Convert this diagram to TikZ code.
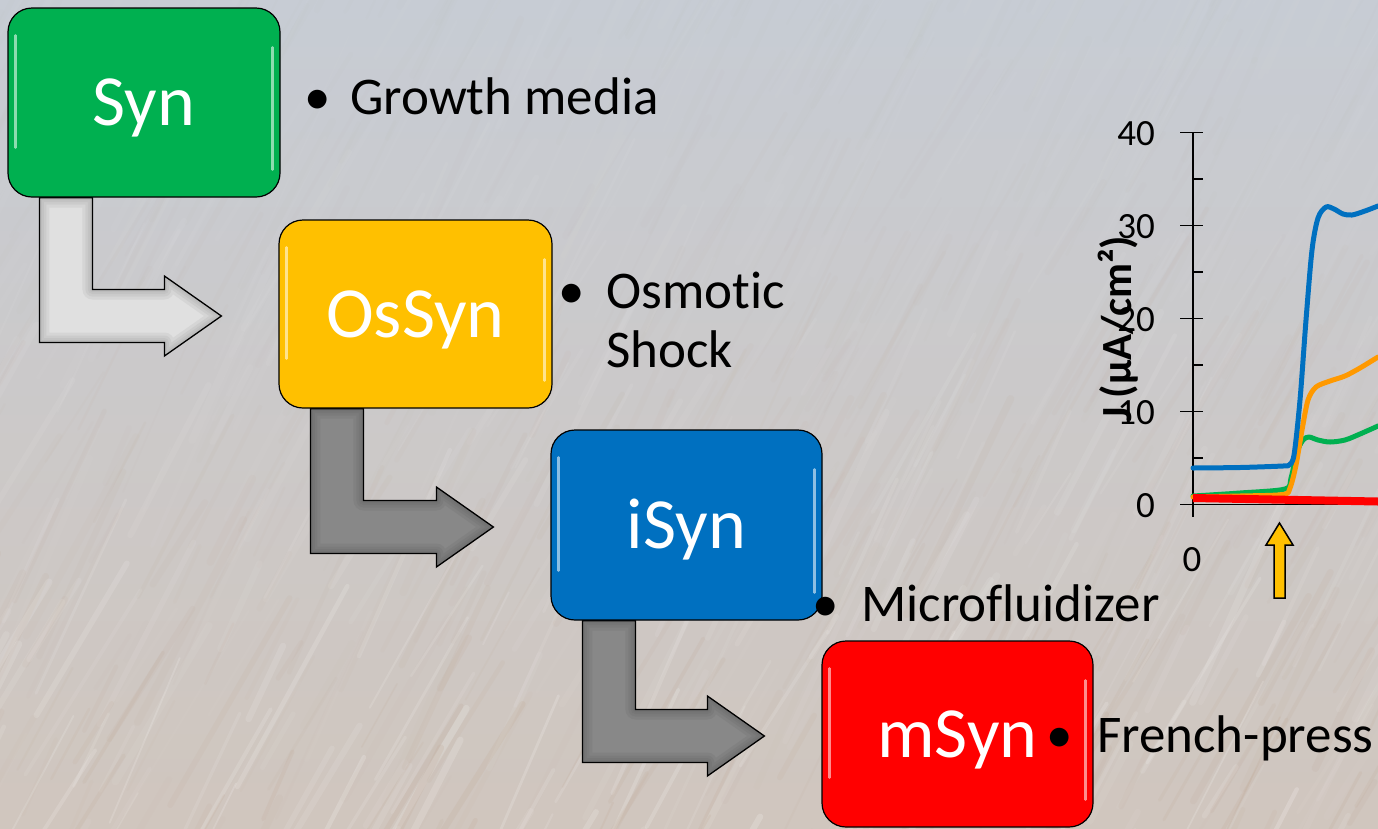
\documentclass[tikz,border=0pt]{standalone}
\usepackage{fontspec}
\setmainfont{Carlito}[Ligatures=NoCommon]
\usetikzlibrary{calc}

\definecolor{bgtop}{RGB}{199,204,212}
\definecolor{bgmid}{RGB}{201,200,201}
\definecolor{bgbot}{RGB}{208,198,190}
\definecolor{streaktan}{RGB}{190,165,145}
\definecolor{syngreen}{RGB}{0,176,80}
\definecolor{osyellow}{RGB}{255,192,0}
\definecolor{iblue}{RGB}{0,112,192}
\definecolor{mred}{RGB}{255,0,0}
\definecolor{lightarrow}{RGB}{224,224,224}
\definecolor{darkarrow}{RGB}{136,136,136}
\definecolor{curveorange}{RGB}{255,153,0}

\pgfdeclarelayer{bg}
\pgfdeclarelayer{arrows}
\pgfsetlayers{bg,arrows,main}

\tikzset{
  stage/.style={draw=black, line width=1.2pt, rounded corners=24pt,
    minimum width=272pt, minimum height=189pt, inner sep=0pt, text=white,
    font=\fontsize{72}{72}\selectfont, text height=46pt, text depth=0pt},
  bullettext/.style={font=\fontsize{53}{59}\selectfont, inner sep=0pt, anchor=base west},
  dot/.style={font=\fontsize{53}{59}\selectfont, inner sep=0pt, anchor=base},
  bentarrow/.style={draw=black, line width=1.3pt, line join=miter},
  ticklabel/.style={font=\fontsize{37}{37}\selectfont, inner sep=0pt,
    text height=23.4pt, text depth=0pt},
  curve/.style={line width=5pt, line join=round, line cap=round},
  gloss/.style={line width=2.5pt, line cap=round},
}

% bent process arrow from the bottom of one stage to the left of the next,
% filled, with a soft darker bevel inside its outline
\newcommand\bentarrow[3]{%
  \begin{scope}
  \clip let \p1=(#1.south west), \p2=(#2.west) in
    (\x1+32pt,\y1) -- (\x1+85pt,\y1) -- (\x1+85pt,\y2+24.5pt)
    -- (\x2-114pt,\y2+24.5pt) -- (\x2-114pt,\y2+38pt) -- (\x2-57pt,\y2-2pt)
    -- (\x2-114pt,\y2-42pt) -- (\x2-114pt,\y2-28.5pt) -- (\x1+32pt,\y2-28.5pt)
    -- cycle;
  \fill[#3] (0,0) rectangle (1378,828);
  \foreach \w in {20,14,9,5}{
  \draw[line width=\w pt, #3!70!black, opacity=0.16, line join=round]
    let \p1=(#1.south west), \p2=(#2.west) in
    (\x1+32pt,\y1) -- (\x1+85pt,\y1) -- (\x1+85pt,\y2+24.5pt)
    -- (\x2-114pt,\y2+24.5pt) -- (\x2-114pt,\y2+38pt) -- (\x2-57pt,\y2-2pt)
    -- (\x2-114pt,\y2-42pt) -- (\x2-114pt,\y2-28.5pt) -- (\x1+32pt,\y2-28.5pt)
    -- cycle;}
  \end{scope}
  \draw[bentarrow]
    let \p1=(#1.south west), \p2=(#2.west) in
    (\x1+32pt,\y1) -- (\x1+85pt,\y1) -- (\x1+85pt,\y2+24.5pt)
    -- (\x2-114pt,\y2+24.5pt) -- (\x2-114pt,\y2+38pt) -- (\x2-57pt,\y2-2pt)
    -- (\x2-114pt,\y2-42pt) -- (\x2-114pt,\y2-28.5pt) -- (\x1+32pt,\y2-28.5pt)
    -- cycle;}

% glossy edge highlights of a stage box
\newcommand\stagegloss[2]{%
  \draw[gloss, #2!45!white] ($(#1.north west)+(8,28)$) -- ($(#1.south west)+(8,-50)$);
  \draw[gloss, #2!45!white] ($(#1.north east)+(-8,40)$) -- ($(#1.south east)+(-8,-28)$);}

\begin{document}
\begin{tikzpicture}[x=1pt,y=-1pt]
\useasboundingbox (0,0) rectangle (1378,828);

% textured backdrop
\begin{pgfonlayer}{bg}
  \shade[top color=bgtop, middle color=bgmid, bottom color=bgbot]
    (0,0) rectangle (1378,828);
  \pgfmathsetseed{12}
  \foreach \i in {1,...,900}{
    \pgfmathsetmacro\sx{rnd*1500-100}
    \pgfmathsetmacro\sy{rnd*950}
    \pgfmathsetmacro\len{40+rnd*200}
    \pgfmathsetmacro\ang{57+rnd*10}
    \pgfmathsetmacro\op{0.02+0.2*rnd*(\sy/950)*(\sy/950)}
    \pgfmathsetmacro\wd{1.5+rnd*6}
    \pgfmathtruncatemacro\kind{rnd<0.5 ? 1 : 0}
    \ifnum\kind=1
      \draw[line width=\wd pt, opacity=\op, white, line cap=round] (\sx,\sy) -- ++(-\ang:\len);
    \else
      \draw[line width=\wd pt, opacity=\op, streaktan, line cap=round] (\sx,\sy) -- ++(-\ang:\len);
    \fi
  }
\end{pgfonlayer}

% process stages
\node[stage, fill=syngreen] (syn) at (144,102.5) {Syn};
\node[stage, fill=osyellow, minimum width=273pt, minimum height=188pt] (ossyn) at (415.5,314) {OsSyn};
\node[stage, fill=iblue, minimum width=271pt, minimum height=190pt] (isyn) at (686.5,525) {iSyn};
\node[stage, fill=mred, minimum width=271pt, minimum height=186pt] (msyn) at (957.5,734) {mSyn};
\stagegloss{syn}{syngreen}
\stagegloss{ossyn}{osyellow}
\stagegloss{isyn}{iblue}
\stagegloss{msyn}{mred}

\begin{pgfonlayer}{arrows}
  \bentarrow{syn}{ossyn}{lightarrow}
  \bentarrow{ossyn}{isyn}{darkarrow}
  \bentarrow{isyn}{msyn}{darkarrow}
\end{pgfonlayer}

% bullet notes
\node[dot] (b1) at (318,114) {•};
\node[bullettext] (t1) at (350,114) {Growth media};
\node[dot] (b2) at (572,308) {•};
\node[bullettext] (t2a) at (606,308) {Osmotic};
\node[bullettext] (t2b) at (606,367) {Shock};
\node[dot] (b3) at (826,621) {•};
\node[bullettext] (t3) at (861,621) {Microfluidizer};
\node[dot] (b4) at (1060,752) {•};
\node[bullettext] (t4) at (1097,752) {French-press};

% current density plot
\draw[line width=1.4pt] (1193,133) -- (1193,517);
\draw[line width=1.4pt] (1193,504.5) -- (1378,504.5);
\foreach \y in {132.5,225.5,318.5,411.5,504.5}
  \draw[line width=1.4pt] (1180,\y) -- (1203,\y);
\foreach \y in {179,272,365,458}
  \draw[line width=1.4pt] (1193,\y) -- (1203,\y);
\node[ticklabel, anchor=east] (l40) at (1155,133.5) {40};
\node[ticklabel, anchor=east] (l30) at (1155,226.5) {30};
\node[ticklabel, anchor=east] (l20) at (1155,319.5) {20};
\node[ticklabel, anchor=east] (l10) at (1155,412.5) {10};
\node[ticklabel, anchor=east] (l0) at (1155,505.5) {0};
\node[ticklabel] (x0) at (1192,560) {0};
\node[rotate=90, font=\fontsize{43}{43}\bfseries\selectfont, inner sep=0pt] (ylab)
  at (1118,329) {J (μA/cm²)};

\draw[curve, syngreen] plot[smooth, tension=0.5] coordinates {
  (1193,496) (1240,493) (1285,489) (1291,478) (1297,452) (1303,440) (1309,437)
  (1318,440) (1330,442) (1345,440) (1360,434) (1378,426)};
\draw[curve, curveorange] plot[smooth, tension=0.5] coordinates {
  (1193,497) (1240,496) (1283,494.5) (1290,488) (1296,465) (1302,430) (1308,400)
  (1316,387) (1330,381) (1345,376) (1360,368) (1378,357)};
\draw[curve, iblue] plot[smooth, tension=0.5] coordinates {
  (1193,468) (1240,467.5) (1283,466) (1289,465) (1294,455) (1300,400) (1306,320)
  (1312,250) (1318,218) (1326,207) (1334,209) (1343,214) (1352,215) (1365,211) (1378,206)};
\draw[line width=8pt, mred] (1193,498) -- (1378,501.5);

% injection marker
\draw[fill=osyellow, line width=1.5pt, line join=miter]
  (1274,598) -- (1285,598) -- (1285,545) -- (1293,545) -- (1279.5,523)
  -- (1266,545) -- (1274,545) -- cycle;
\end{tikzpicture}
\end{document}
